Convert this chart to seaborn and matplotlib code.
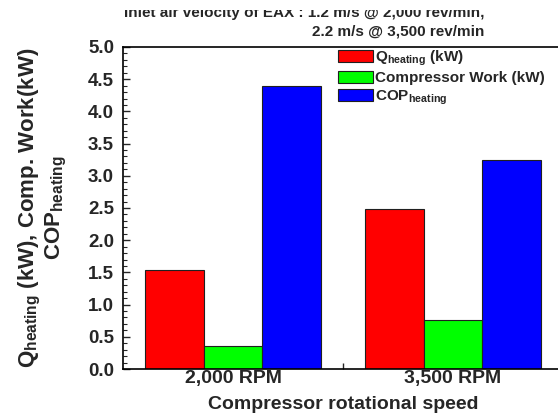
import pandas as pd
import matplotlib.pyplot as plt
import seaborn as sns
from matplotlib.patches import Rectangle
from matplotlib.ticker import MultipleLocator, FixedLocator

# Data
speeds = ['2,000 RPM', '3,500 RPM']
q_heating = [1.53, 2.48]
comp_work = [0.35, 0.76]
cop_heating = [4.39, 3.25]

series_names = [r'Q$_{\mathregular{heating}}$ (kW)', 'Compressor Work (kW)',
                r'COP$_{\mathregular{heating}}$']
series_vals = [q_heating, comp_work, cop_heating]

rows = []
for name, vals in zip(series_names, series_vals):
    for s, v in zip(speeds, vals):
        rows.append({'speed': s, 'series': name, 'value': v})
df = pd.DataFrame(rows)

palette = dict(zip(series_names, ['#ff0000', '#00ff00', '#0000ff']))

sns.set_theme(style='white')
plt.rcParams['font.family'] = ['Liberation Sans', 'DejaVu Sans']
plt.rcParams['font.weight'] = 'bold'
plt.rcParams['mathtext.default'] = 'regular'

fig = plt.figure(figsize=(5.58, 4.19), dpi=100)
ax = fig.add_axes([123 / 558, 1 - 369 / 419, 440 / 558, 322 / 419])

sns.barplot(data=df, x='speed', y='value', hue='series', palette=palette,
            width=0.8, edgecolor='#202020', linewidth=0.8, saturation=1,
            ax=ax)

ax.set_xlim(-0.5, 1.5)
ax.set_ylim(0, 5)
ax.yaxis.set_major_locator(MultipleLocator(0.5))
ax.yaxis.set_minor_locator(MultipleLocator(0.1))
ax.xaxis.set_minor_locator(FixedLocator([0.5]))
ax.tick_params(axis='y', which='major', direction='in', length=5, width=1,
               left=True, labelsize=13.5, pad=6.5)
ax.tick_params(axis='y', which='minor', direction='in', length=3, width=0.8,
               left=True)
ax.tick_params(axis='x', which='major', length=0, labelsize=14, pad=1)
ax.tick_params(axis='x', which='minor', direction='in', length=4, bottom=True)
for lab in ax.get_xticklabels() + ax.get_yticklabels():
    lab.set_fontweight('bold')

for side in ['left', 'bottom', 'top']:
    ax.spines[side].set_color('black')
    ax.spines[side].set_linewidth(1.2)
ax.spines['right'].set_visible(False)

ax.set_xlabel('Compressor rotational speed', fontsize=14, fontweight='bold',
              labelpad=6)
ax.set_ylabel('Q$_{\\mathregular{heating}}$ (kW), Comp. Work(kW)\nCOP$_{\\mathregular{heating}}$',
              fontsize=16, fontweight='bold', linespacing=1.0, va='center')
ax.yaxis.set_label_coords(-(123 - 43) / 440, 0.5)

leg = ax.legend(loc='upper left', bbox_to_anchor=(213 / 440, 1.0),
                frameon=False, fontsize=11, handlelength=2.3, handleheight=0.85,
                handletextpad=0.15, labelspacing=0.2, borderaxespad=0.0,
                borderpad=0.1)
for t in leg.get_texts():
    t.set_fontweight('bold')

fig.text(484 / 558, 1 - 17 / 419, 'Inlet air velocity of EAX : 1.2 m/s @ 2,000 rev/min,',
         ha='right', va='baseline', fontsize=11, fontweight='bold')
fig.text(484 / 558, 1 - 35 / 419, '2.2 m/s @ 3,500 rev/min',
         ha='right', va='baseline', fontsize=11, fontweight='bold')
# the top title line is partly hidden in the original figure
fig.patches.append(Rectangle((0, 1 - 10 / 419), 1, 10 / 419, transform=fig.transFigure,
                             facecolor='white', edgecolor='none', zorder=10))

plt.savefig('out.png', dpi=100)
